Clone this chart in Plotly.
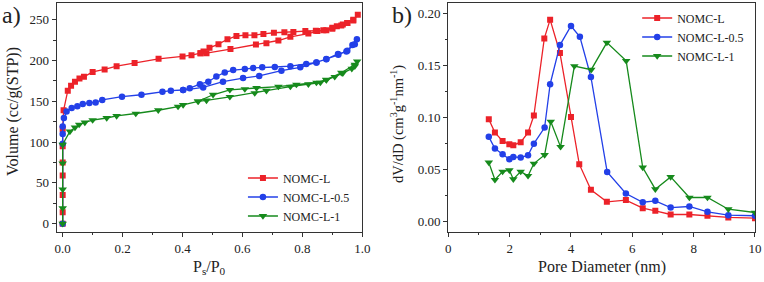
import plotly.graph_objects as go

# ---------- Panel a) N2 isotherms (adsorption + desorption branches) ----------
L_ads_p = [0, 0, 0, 0, 0, 0, 0, 0.003, 0.017, 0.028, 0.041, 0.056, 0.071, 0.10, 0.14, 0.18, 0.24, 0.32, 0.40, 0.43, 0.46, 0.48,
           0.56, 0.645, 0.68, 0.72, 0.76, 0.82, 0.85, 0.88, 0.90, 0.915, 0.935, 0.95, 0.97, 0.985]
L_ads_v = [0, 14, 35, 59, 75, 95, 116, 139, 163, 169, 174, 178, 180, 186, 189, 193, 197, 202, 205, 206.5, 209, 209,
           214, 219.5, 221, 224.5, 229, 233, 236, 237, 239, 242, 244, 246, 249, 256]
L_des_p = [0.97, 0.95, 0.93, 0.90, 0.87, 0.845, 0.81, 0.77, 0.74, 0.705, 0.67, 0.64, 0.61, 0.58, 0.55, 0.52, 0.49, 0.47, 0.46]
L_des_v = [250, 246, 243, 240, 237, 236.5, 236, 235, 234.5, 234, 232.5, 231, 231, 230, 226, 220, 215.5, 211, 209]

L05_ads_p = [0, 0, 0, 0, 0.004, 0.013, 0.03, 0.049, 0.067, 0.089, 0.11, 0.132, 0.198, 0.263, 0.333, 0.361, 0.402, 0.469,
             0.535, 0.602, 0.656, 0.73, 0.793, 0.847, 0.88, 0.919, 0.947, 0.967, 0.982]
L05_ads_v = [0, 98, 110, 119, 129.5, 137.6, 141.8, 144, 146.7, 148, 148.6, 151.6, 155.6, 158, 161.8, 163, 163.8, 167,
             174, 178.5, 181, 187.5, 191.6, 197.6, 201.8, 208, 211, 219, 226]
L05_des_p = [0.975, 0.95, 0.92, 0.88, 0.847, 0.813, 0.76, 0.708, 0.666, 0.636, 0.608, 0.569, 0.541, 0.513, 0.486, 0.458, 0.424, 0.402]
L05_des_v = [220, 212, 207, 201.5, 197.6, 195.7, 193, 192, 191.6, 190.8, 189.5, 188.3, 185.4, 180.4, 174, 171, 166, 163.8]

L1_ads_p = [0, 0, 0, 0, 0, 0.024, 0.041, 0.055, 0.074, 0.10, 0.147, 0.18, 0.244, 0.319, 0.385, 0.402, 0.452, 0.48,
            0.558, 0.641, 0.68, 0.76, 0.82, 0.86, 0.88, 0.908, 0.935, 0.965, 0.975, 0.983]
L1_ads_v = [0, 19, 42, 74, 97, 113, 118, 121.5, 124, 127, 129.5, 132, 135, 139, 143.5, 145.5, 150, 151,
            155.5, 160, 163, 168, 171, 173, 176, 180, 184.5, 190, 193, 199]
L1_des_p = [0.975, 0.93, 0.88, 0.847, 0.78, 0.72, 0.647, 0.608, 0.558, 0.502, 0.452]
L1_des_v = [195, 185, 176.5, 173, 170.5, 168, 166.3, 165, 164, 158, 150]

# ---------- Panel b) pore size distribution ----------
D_L = [1.32, 1.52, 1.77, 1.99, 2.12, 2.36, 2.60, 2.79, 3.13, 3.32, 3.64, 4.0, 4.27, 4.65, 5.17, 5.79, 6.34, 6.75, 7.25, 7.86, 8.45, 9.13, 10.0]
dV_L = [0.0984, 0.0856, 0.0776, 0.0744, 0.0735, 0.0764, 0.0856, 0.102, 0.176, 0.194, 0.162, 0.1006, 0.0553, 0.0307,
        0.0192, 0.0208, 0.0131, 0.0105, 0.0070, 0.0070, 0.0058, 0.0042, 0.0035]
D_L05 = [1.32, 1.52, 1.77, 1.99, 2.12, 2.36, 2.60, 2.79, 3.14, 3.32, 3.64, 4.0, 4.29, 4.65, 5.18, 5.79, 6.34, 6.75, 7.25, 7.86, 8.45, 9.13, 10.0]
dV_L05 = [0.0815, 0.0703, 0.0649, 0.0600, 0.0623, 0.0617, 0.0639, 0.0750, 0.0904, 0.132, 0.1696, 0.1879, 0.1776, 0.139,
          0.0479, 0.0272, 0.0188, 0.0201, 0.0137, 0.0147, 0.0096, 0.0064, 0.0058]
D_L1 = [1.32, 1.52, 1.77, 1.99, 2.12, 2.36, 2.60, 2.79, 3.14, 3.34, 3.66, 4.11, 4.66, 5.17, 5.80, 6.34, 6.75, 7.25, 7.86, 8.45, 9.13, 10.0]
dV_L1 = [0.0569, 0.0403, 0.0482, 0.0495, 0.0409, 0.0482, 0.0441, 0.0559, 0.0642, 0.0962, 0.0719, 0.1494, 0.146, 0.172,
         0.1545, 0.0521, 0.0313, 0.0431, 0.0233, 0.0233, 0.0121, 0.0089]

names = ["NOMC-L", "NOMC-L-0.5", "NOMC-L-1"]
colors = ["#ec2229", "#2340e8", "#168a1c"]
symbols = ["square", "circle", "triangle-down"]
msizes = [6, 6.5, 7.5]

iso = [(L_ads_p + L_des_p, L_ads_v + L_des_v),
       (L05_ads_p + L05_des_p, L05_ads_v + L05_des_v),
       (L1_ads_p + L1_des_p, L1_ads_v + L1_des_v)]
psd = [(D_L, dV_L), (D_L05, dV_L05), (D_L1, dV_L1)]

FONT = "Liberation Serif"
fig = go.Figure()

for i in range(3):
    fig.add_trace(go.Scatter(
        x=iso[i][0], y=iso[i][1], mode="lines+markers", name=names[i],
        line=dict(color=colors[i], width=1.3),
        marker=dict(color=colors[i], symbol=symbols[i], size=msizes[i]),
        xaxis="x", yaxis="y", legend="legend"))
for i in range(3):
    fig.add_trace(go.Scatter(
        x=psd[i][0], y=psd[i][1], mode="lines+markers", name=names[i],
        line=dict(color=colors[i], width=1.3),
        marker=dict(color=colors[i], symbol=symbols[i], size=msizes[i]),
        xaxis="x2", yaxis="y2", legend="legend2"))

axcommon = dict(showline=True, linecolor="#333", linewidth=1.2, mirror=True,
                ticks="outside", ticklen=4, tickwidth=1.1, tickcolor="#333",
                showgrid=False, zeroline=False, automargin=False, ticklabeloverflow="allow",
                tickfont=dict(family=FONT, size=13, color="#222"))

ydom = [0.178, 0.988]
fig.update_layout(
    width=764, height=282, margin=dict(l=0, r=0, t=0, b=0, autoexpand=False),
    paper_bgcolor="white", plot_bgcolor="white",
    font=dict(family=FONT, color="#222"),
    xaxis=dict(domain=[0.0742, 0.4742], range=[-0.02, 1.0], tickvals=[0, 0.2, 0.4, 0.6, 0.8, 1.0],
               ticktext=["0.0", "0.2", "0.4", "0.6", "0.8", "1.0"],
               minor=dict(dtick=0.1, tick0=0, ticks="outside", ticklen=2.5, tickcolor="#333"),
               anchor="y", **axcommon),
    yaxis=dict(domain=ydom, range=[-10, 270], tickvals=[0, 50, 100, 150, 200, 250],
               minor=dict(dtick=25, tick0=0, ticks="outside", ticklen=2.5, tickcolor="#333"),
               anchor="x", **axcommon),
    xaxis2=dict(domain=[0.5868, 0.9882], range=[0, 10], tickvals=[0, 2, 4, 6, 8, 10],
                minor=dict(dtick=1, tick0=0, ticks="outside", ticklen=2.5, tickcolor="#333"),
                anchor="y2", **axcommon),
    yaxis2=dict(domain=ydom, range=[-0.0096, 0.2096], tickvals=[0, 0.05, 0.10, 0.15, 0.20],
                ticktext=["0.00", "0.05", "0.10", "0.15", "0.20"],
                minor=dict(dtick=0.025, tick0=0, ticks="outside", ticklen=2.5, tickcolor="#333"),
                anchor="x2", **axcommon),
    legend=dict(x=0.318, y=1 - 197 / 282, xanchor="left", yanchor="middle", bgcolor="rgba(0,0,0,0)",
                font=dict(family=FONT, size=12, color="#222"), itemwidth=30),
    legend2=dict(x=0.834, y=1 - 37 / 282, xanchor="left", yanchor="middle", bgcolor="rgba(0,0,0,0)",
                 font=dict(family=FONT, size=12, color="#222"), itemwidth=30),
    showlegend=True,
)

ann = [
    dict(text="a)", x=0.0, y=1 - 15 / 282, xanchor="left", yanchor="middle", font=dict(size=24)),
    dict(text="b)", x=390 / 764, y=1 - 15 / 282, xanchor="left", yanchor="middle", font=dict(size=24)),
    dict(text="P<sub>s</sub>/P<sub>0</sub>", x=209 / 764, y=1 - 267 / 282, xanchor="center", yanchor="middle",
         font=dict(size=16)),
    dict(text="Pore Diameter (nm)", x=602 / 764, y=1 - 267 / 282, xanchor="center", yanchor="middle",
         font=dict(size=16)),
    dict(text="Volume (cc/g(STP))", x=13 / 764, y=1 - 112 / 282, xanchor="center", yanchor="middle",
         textangle=-90, font=dict(size=16)),
    dict(text="dV/dD (cm<sup>3</sup>g<sup>-1</sup>nm<sup>-1</sup>)", x=398 / 764, y=1 - 124 / 282,
         xanchor="center", yanchor="middle", textangle=-90, font=dict(size=14.5)),
]
for a in ann:
    a.update(xref="paper", yref="paper", showarrow=False)
    a["font"] = dict(family=FONT, color="#222", size=a["font"]["size"])
fig.update_layout(annotations=ann)

fig.write_html("out.html", config={"displayModeBar": False},
               post_script="document.body.style.margin='0';")
